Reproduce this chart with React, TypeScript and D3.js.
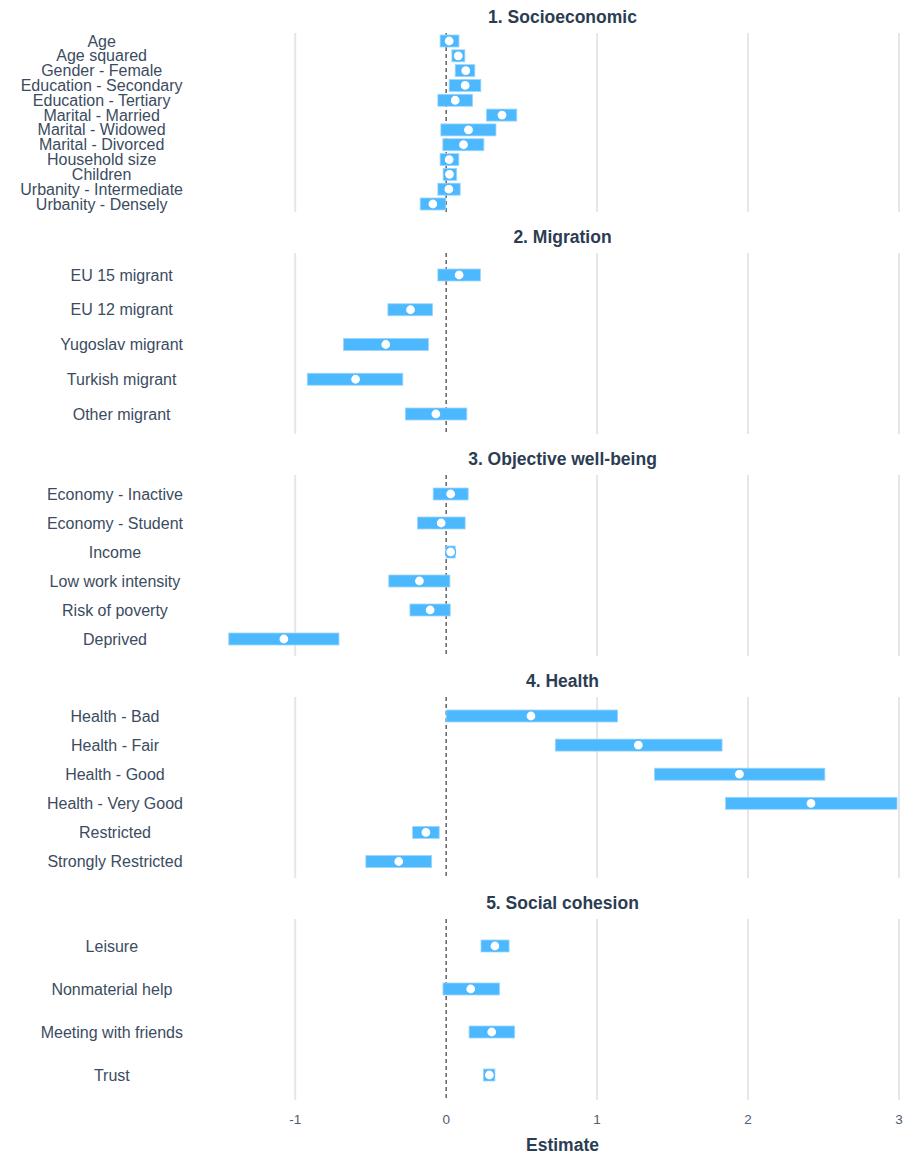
import React, { useEffect, useRef } from "react";
import * as d3 from "d3";

const panelTitles = ["1. Socioeconomic", "2. Migration", "3. Objective well-being", "4. Health", "5. Social cohesion"];

const socioLabels = ["Age", "Age squared", "Gender - Female", "Education - Secondary", "Education - Tertiary", "Marital - Married", "Marital - Widowed", "Marital - Divorced", "Household size", "Children", "Urbanity - Intermediate", "Urbanity - Densely"];
const socioEst = [0.02, 0.08, 0.13, 0.126, 0.06, 0.37, 0.148, 0.115, 0.02, 0.022, 0.018, -0.088];
const socioLow = [-0.04, 0.038, 0.06, 0.02, -0.055, 0.267, -0.035, -0.022, -0.04, -0.02, -0.055, -0.172];
const socioHigh = [0.085, 0.124, 0.19, 0.23, 0.175, 0.468, 0.33, 0.25, 0.084, 0.07, 0.093, -0.002];

const migLabels = ["EU 15 migrant", "EU 12 migrant", "Yugoslav migrant", "Turkish migrant", "Other migrant"];
const migEst = [0.086, -0.236, -0.40, -0.60, -0.068];
const migLow = [-0.055, -0.386, -0.68, -0.92, -0.27];
const migHigh = [0.227, -0.09, -0.117, -0.287, 0.137];

const objLabels = ["Economy - Inactive", "Economy - Student", "Income", "Low work intensity", "Risk of poverty", "Deprived"];
const objEst = [0.03, -0.033, 0.03, -0.177, -0.106, -1.075];
const objLow = [-0.086, -0.19, 0.0, -0.38, -0.24, -1.44];
const objHigh = [0.146, 0.126, 0.06, 0.025, 0.027, -0.71];

const healthLabels = ["Health - Bad", "Health - Fair", "Health - Good", "Health - Very Good", "Restricted", "Strongly Restricted"];
const healthEst = [0.562, 1.273, 1.943, 2.417, -0.134, -0.314];
const healthLow = [0.0, 0.723, 1.38, 1.851, -0.222, -0.532];
const healthHigh = [1.136, 1.828, 2.509, 2.987, -0.046, -0.096];

const socLabels = ["Leisure", "Nonmaterial help", "Meeting with friends", "Trust"];
const socEst = [0.323, 0.163, 0.302, 0.286];
const socLow = [0.231, -0.021, 0.152, 0.247];
const socHigh = [0.417, 0.354, 0.454, 0.323];

const xTicks = [-1, 0, 1, 2, 3];

const panels = [
  { labels: socioLabels, est: socioEst, low: socioLow, high: socioHigh },
  { labels: migLabels, est: migEst, low: migLow, high: migHigh },
  { labels: objLabels, est: objEst, low: objLow, high: objHigh },
  { labels: healthLabels, est: healthEst, low: healthLow, high: healthHigh },
  { labels: socLabels, est: socEst, low: socLow, high: socHigh },
];

// layout: grid extents and row-center extents per panel
const layout = [
  { top: 33, bottom: 212, first: 41, last: 204 },
  { top: 253, bottom: 434, first: 275, last: 414 },
  { top: 475, bottom: 656, first: 494, last: 639 },
  { top: 697, bottom: 878, first: 716, last: 861.5 },
  { top: 919, bottom: 1100, first: 946, last: 1075 },
];

const W = 904;
const H = 1154;
const FONT = "'Liberation Sans', Arial, Helvetica, sans-serif";
const TITLE = "#2b3d52";
const TEXT = "#3b4c61";
const BAR = "#4cb8fd";

export default function App() {
  const ref = useRef<SVGSVGElement>(null);

  useEffect(() => {
    const svg = d3.select(ref.current);
    svg.selectAll("*").remove();
    const x = d3.scaleLinear().domain([-1.465, 3]).range([225, 899]);
    const labelRight = 183;

    panels.forEach((p, i) => {
      const L = layout[i];
      const g = svg.append("g");
      const y = d3.scalePoint<string>().domain(p.labels).range([L.first, L.last]);

      g.selectAll("line.grid")
        .data(xTicks)
        .join("line")
        .attr("x1", (d) => x(d))
        .attr("x2", (d) => x(d))
        .attr("y1", L.top)
        .attr("y2", L.bottom)
        .attr("stroke", (d) => (d === 0 ? "none" : "#e6e6e6"))
        .attr("stroke-width", 2);

      g.append("line")
        .attr("x1", x(0))
        .attr("x2", x(0))
        .attr("y1", L.top)
        .attr("y2", L.bottom)
        .attr("stroke", "#3a3a3a")
        .attr("stroke-width", 1.2)
        .attr("stroke-dasharray", "4,3");

      g.append("text")
        .attr("x", (x.range()[0] + x.range()[1]) / 2 + 0.5)
        .attr("y", L.top - 10)
        .attr("text-anchor", "middle")
        .attr("font-family", FONT)
        .attr("font-size", 17.5)
        .attr("font-weight", "bold")
        .attr("fill", TITLE)
        .text(panelTitles[i]);

      const lab = g.append("g");
      const texts = lab
        .selectAll("text")
        .data(p.labels)
        .join("text")
        .attr("y", (d) => (y(d) as number) + 5.5)
        .attr("text-anchor", "middle")
        .attr("font-family", FONT)
        .attr("font-size", 16)
        .attr("fill", TEXT)
        .text((d) => d);
      let maxW = 0;
      texts.each(function () {
        const w = (this as SVGTextElement).getComputedTextLength();
        if (w > maxW) maxW = w;
      });
      texts.attr("x", labelRight - maxW / 2);

      const rows = p.labels.map((l, k) => ({ l, est: p.est[k], low: p.low[k], high: p.high[k] }));
      g.selectAll("rect.bar")
        .data(rows)
        .join("rect")
        .attr("x", (d) => x(d.low))
        .attr("width", (d) => Math.max(0, x(d.high) - x(d.low)))
        .attr("y", (d) => (y(d.l) as number) - 6)
        .attr("height", 12)
        .attr("fill", BAR)
        .attr("stroke", "#9fd6fc")
        .attr("stroke-width", 0.8);

      g.selectAll("circle.pt")
        .data(rows)
        .join("circle")
        .attr("cx", (d) => x(d.est))
        .attr("cy", (d) => y(d.l) as number)
        .attr("r", 5)
        .attr("fill", "#fff")
        .attr("stroke", BAR)
        .attr("stroke-width", 1.2);
    });

    svg
      .append("g")
      .selectAll("text")
      .data(xTicks)
      .join("text")
      .attr("x", (d) => x(d))
      .attr("y", 1124)
      .attr("text-anchor", "middle")
      .attr("font-family", FONT)
      .attr("font-size", 13.5)
      .attr("fill", "#4e5d70")
      .text((d) => String(d));

    svg
      .append("text")
      .attr("x", (x.range()[0] + x.range()[1]) / 2 + 0.5)
      .attr("y", 1151)
      .attr("text-anchor", "middle")
      .attr("font-family", FONT)
      .attr("font-size", 17.5)
      .attr("font-weight", "bold")
      .attr("fill", TITLE)
      .text("Estimate");
  }, []);

  return (
    <svg
      ref={ref}
      width={W}
      height={H}
      style={{ position: "absolute", left: 0, top: 0, background: "#fff" }}
    />
  );
}
